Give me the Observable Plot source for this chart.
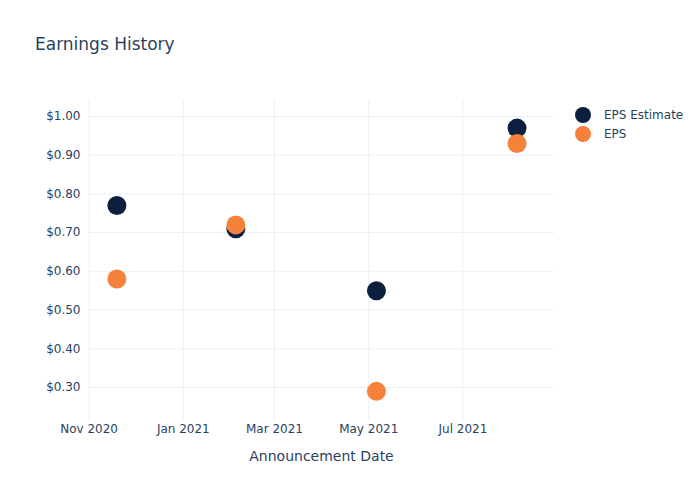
<!DOCTYPE html>
<html>
<head>
<meta charset="utf-8">
<script src="https://cdn.jsdelivr.net/npm/d3@7"></script>
<script src="https://cdn.jsdelivr.net/npm/@observablehq/plot@0.6"></script>
<style>
  html, body { margin: 0; padding: 0; background: #fff; }
  #wrap { position: relative; width: 700px; height: 500px; font-family: "DejaVu Sans", Verdana, sans-serif; color: #2a3f5f; }
  #title { position: absolute; left: 35px; top: 34px; font-size: 17px; line-height: 20px; color: #2a3f5f; }
  #legend { position: absolute; left: 574px; top: 105px; font-size: 12px; color: #2a3f5f; }
  #legend div { display: flex; align-items: center; height: 19px; }
  #legend svg { margin-right: 12px; }
  #chart { position: absolute; left: 0; top: 0; }
</style>
</head>
<body>
<div id="wrap">
  <div id="chart"></div>
  <div id="title">Earnings History</div>
  <div id="legend"></div>
</div>
<script>
const dates = ["2020-11-19", "2021-02-04", "2021-05-06", "2021-08-05"];
const epsEstimate = [0.77, 0.71, 0.55, 0.97];
const epsActual = [0.58, 0.72, 0.29, 0.93];
const seriesNames = ["EPS Estimate", "EPS"];
const seriesColors = ["#0c1f3f", "#f5813a"];
const xTicks = ["2020-11-01", "2021-01-01", "2021-03-01", "2021-05-01", "2021-07-01"];
const yTicks = [0.3, 0.4, 0.5, 0.6, 0.7, 0.8, 0.9, 1.0];

const parse = d3.utcParse("%Y-%m-%d");
const rows = [];
dates.forEach((d, i) => rows.push({date: parse(d), value: epsEstimate[i], series: seriesNames[0]}));
dates.forEach((d, i) => rows.push({date: parse(d), value: epsActual[i], series: seriesNames[1]}));
const xTickDates = xTicks.map(parse);

const chart = Plot.plot({
  width: 700,
  height: 500,
  marginLeft: 88,
  marginRight: 146,
  marginTop: 100,
  marginBottom: 80,
  style: {fontFamily: "'DejaVu Sans', Verdana, sans-serif", fontSize: "12px", color: "#2a3f5f", background: "#fff"},
  x: {type: "utc", domain: [new Date(Date.UTC(2020, 9, 31, 15)), new Date(Date.UTC(2021, 7, 29, 6))]},
  y: {domain: [0.2147, 1.0413]},
  color: {domain: seriesNames, range: seriesColors},
  marks: [
    Plot.gridY(yTicks, {stroke: "#ebf0f8", strokeOpacity: 1, strokeWidth: 1}),
    Plot.gridX(xTickDates, {stroke: "#ebf0f8", strokeOpacity: 1, strokeWidth: 1}),
    Plot.axisY(yTicks, {tickSize: 0, tickPadding: 8, tickFormat: d => "$" + d.toFixed(2), fill: "#2a3f5f", fontSize: 12, label: null}),
    Plot.axisX(xTickDates, {tickSize: 0, tickPadding: 4, tickFormat: d3.utcFormat("%b %Y"), fill: "#2a3f5f", fontSize: 12, label: null}),
    Plot.text(["Announcement Date"], {frameAnchor: "bottom", dy: 40, fill: "#2a3f5f", fontSize: 14}),
    Plot.dot(rows, {x: "date", y: "value", fill: "series", r: 9.5, stroke: null})
  ]
});
document.getElementById("chart").appendChild(chart);

const legend = document.getElementById("legend");
seriesNames.forEach((name, i) => {
  const row = document.createElement("div");
  row.innerHTML = `<svg width="18" height="18"><circle cx="9" cy="9" r="8" fill="${seriesColors[i]}"></circle></svg><span>${name}</span>`;
  legend.appendChild(row);
});
</script>
</body>
</html>
